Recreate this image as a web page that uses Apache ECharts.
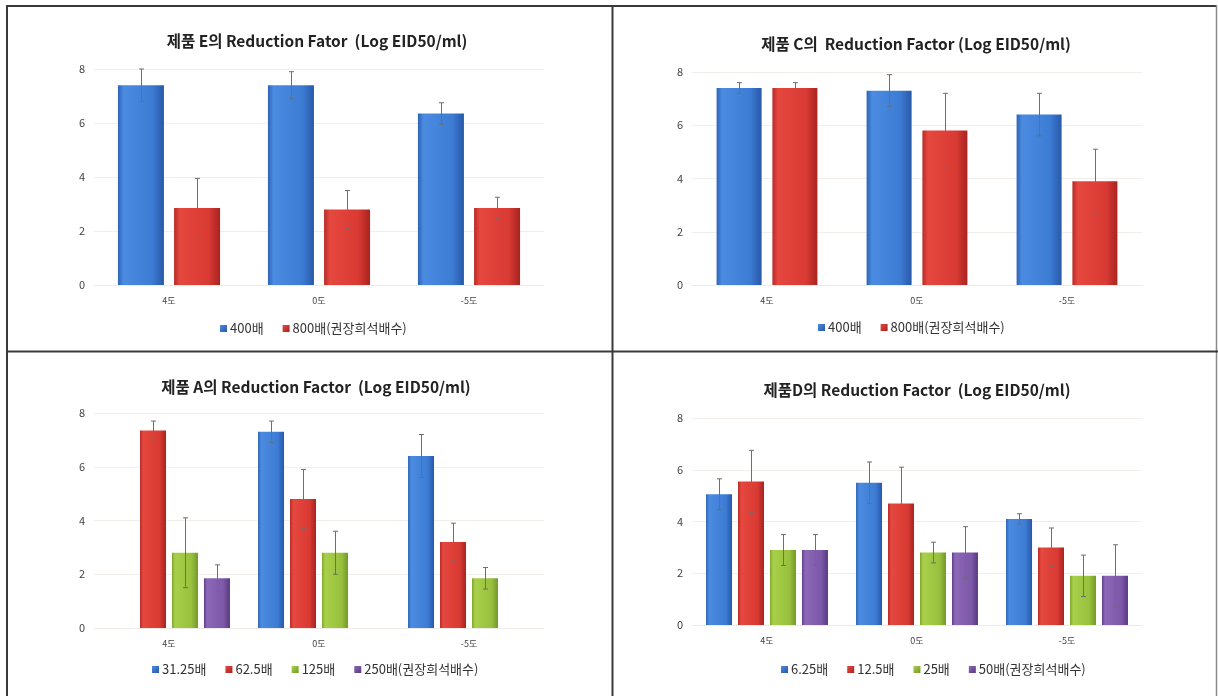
<!DOCTYPE html>
<html>
<head>
<meta charset="utf-8">
<script src="https://cdn.jsdelivr.net/npm/echarts@6/dist/echarts.min.js"></script>
<style>
  html, body { margin: 0; padding: 0; background: #fff; }
  #chart { width: 1218px; height: 696px; }
</style>
</head>
<body>
<div id="chart"></div>
<script>
// Shared category axis (test temperatures)
const categories = ['4도', '0도', '-5도'];

// 제품 E
const eTitle = '제품 E의 Reduction Fator  (Log EID50/ml)';
const eNames = ['400배', '800배(권장희석배수)'];
const e400 = [7.4, 7.4, 6.35];
const e400Err = [0.6, 0.5, 0.4];
const e800 = [2.85, 2.8, 2.85];
const e800Err = [1.1, 0.7, 0.4];

// 제품 C
const cTitle = '제품 C의  Reduction Factor (Log EID50/ml)';
const cNames = ['400배', '800배(권장희석배수)'];
const c400 = [7.4, 7.3, 6.4];
const c400Err = [0.2, 0.6, 0.8];
const c800 = [7.4, 5.8, 3.9];
const c800Err = [0.2, 1.4, 1.2];

// 제품 A
const aTitle = '제품 A의 Reduction Factor  (Log EID50/ml)';
const aNames = ['31.25배', '62.5배', '125배', '250배(권장희석배수)'];
const a3125 = [null, 7.3, 6.4];
const a3125Err = [null, 0.4, 0.8];
const a625 = [7.35, 4.8, 3.2];
const a625Err = [0.35, 1.1, 0.7];
const a125 = [2.8, 2.8, 1.85];
const a125Err = [1.3, 0.8, 0.4];
const a250 = [1.85, null, null];
const a250Err = [0.5, null, null];

// 제품 D
const dTitle = '제품D의 Reduction Factor  (Log EID50/ml)';
const dNames = ['6.25배', '12.5배', '25배', '50배(권장희석배수)'];
const d625 = [5.05, 5.5, 4.1];
const d625Err = [0.6, 0.8, 0.2];
const d125 = [5.55, 4.7, 3.0];
const d125Err = [1.2, 1.4, 0.75];
const d25 = [2.9, 2.8, 1.9];
const d25Err = [0.6, 0.4, 0.8];
const d50 = [2.9, 2.8, 1.9];
const d50Err = [0.6, 1.0, 1.2];

// y axis range
const yMin = 0, yMax = 8, yStep = 2;

// ---- styling ----
const FONT = '"Noto Sans CJK KR", "Noto Sans", sans-serif';
const palette = {
  blue:   ['#2c63b8', '#4b8be0', '#3d7cd4', '#2858a8'],
  red:    ['#b82a26', '#e5483f', '#d93a33', '#a82420'],
  green:  ['#7fa62c', '#a8d04a', '#98c03d', '#74992a'],
  purple: ['#5e3f88', '#8d67b8', '#7c58a8', '#573a80']
};
function barFill(c) {
  return new echarts.graphic.LinearGradient(0, 0, 1, 0, [
    { offset: 0, color: c[0] },
    { offset: 0.12, color: c[1] },
    { offset: 0.75, color: c[2] },
    { offset: 1, color: c[3] }
  ]);
}
function iconFill(c) {
  return new echarts.graphic.LinearGradient(0, 0, 1, 1, [
    { offset: 0, color: c[1] },
    { offset: 1, color: c[3] }
  ]);
}

// panel layout: grid box in px, title position, legend position, bar sizing
const panels = [
  { title: eTitle, names: eNames, vals: [e400, e800], errs: [e400Err, e800Err],
    colors: [palette.blue, palette.red],
    grid: { left: 94, top: 69, width: 450, height: 216 },
    titleX: 312, titleY: 28, legendY: 317, legendX: 215, barWidth: 46, barGap: 0.22 },
  { title: cTitle, names: cNames, vals: [c400, c800], errs: [c400Err, c800Err],
    colors: [palette.blue, palette.red],
    grid: { left: 692, top: 72, width: 450, height: 213 },
    titleX: 911, titleY: 31, legendY: 316, legendX: 813, barWidth: 45, barGap: 0.24 },
  { title: aTitle, names: aNames, vals: [a3125, a625, a125, a250], errs: [a3125Err, a625Err, a125Err, a250Err],
    colors: [palette.blue, palette.red, palette.green, palette.purple],
    grid: { left: 94, top: 413, width: 450, height: 215 },
    titleX: 311, titleY: 374, legendY: 658, legendX: 147, barWidth: 26, barGap: 0.23 },
  { title: dTitle, names: dNames, vals: [d625, d125, d25, d50], errs: [d625Err, d125Err, d25Err, d50Err],
    colors: [palette.blue, palette.red, palette.green, palette.purple],
    grid: { left: 692, top: 418, width: 450, height: 207 },
    titleX: 912, titleY: 377, legendY: 658, legendX: 776, barWidth: 26, barGap: 0.23 }
];

const option = {
  backgroundColor: '#ffffff',
  animation: false,
  title: [], legend: [], grid: [], xAxis: [], yAxis: [], series: [],
  graphic: [
    // panel frame
    { type: 'line', shape: { x1: 7, y1: 6, x2: 1217, y2: 6 }, style: { stroke: '#3a3a3a', lineWidth: 2 } },
    { type: 'line', shape: { x1: 7, y1: 5, x2: 7, y2: 700 }, style: { stroke: '#3a3a3a', lineWidth: 2 } },
    { type: 'line', shape: { x1: 1216.5, y1: 5, x2: 1216.5, y2: 700 }, style: { stroke: '#8a8a8a', lineWidth: 1.5 } },
    { type: 'line', shape: { x1: 612.5, y1: 5, x2: 612.5, y2: 700 }, style: { stroke: '#3a3a3a', lineWidth: 2 } },
    { type: 'line', shape: { x1: 6, y1: 351.5, x2: 1218, y2: 351.5 }, style: { stroke: '#3a3a3a', lineWidth: 2 } }
  ]
};

panels.forEach((p, pi) => {
  option.title.push({
    text: p.title, left: p.titleX, top: p.titleY, textAlign: 'center',
    textStyle: { fontFamily: FONT, fontSize: 15.5, fontWeight: 'bold', color: '#222' }
  });
  option.legend.push({
    data: p.names.map((n, i) => ({ name: n, itemStyle: { color: iconFill(p.colors[i]) } })),
    left: p.legendX, top: p.legendY,
    orient: 'horizontal', itemWidth: 7, itemHeight: 7, itemGap: 19, icon: 'rect',
    textStyle: { fontFamily: FONT, fontSize: 13, color: '#333', padding: [0, 0, 0, -2] },
    selectedMode: false
  });
  option.grid.push(Object.assign({ containLabel: false }, p.grid));
  option.xAxis.push({
    type: 'category', gridIndex: pi, data: categories,
    axisLine: { show: true, lineStyle: { color: '#f0ebe6' } },
    axisTick: { show: false },
    axisLabel: { fontFamily: FONT, fontSize: 9, color: '#444', margin: 11 }
  });
  option.yAxis.push({
    type: 'value', gridIndex: pi, min: yMin, max: yMax, interval: yStep,
    axisLine: { show: false }, axisTick: { show: false },
    splitLine: { lineStyle: { color: '#f3eee9', width: 1 } },
    axisLabel: { fontFamily: FONT, fontSize: 11, color: '#444', margin: 9 }
  });
  const n = p.names.length;
  p.names.forEach((name, si) => {
    option.series.push({
      type: 'bar', name, xAxisIndex: pi, yAxisIndex: pi,
      data: p.vals[si],
      barWidth: p.barWidth, barGap: Math.round(p.barGap * 100) + '%',
      itemStyle: { color: barFill(p.colors[si]) },
      z: 2
    });
  });
  // error bars, one custom series per bar series
  p.names.forEach((name, si) => {
    const step = p.barWidth * (1 + p.barGap);
    const shift = (si - (n - 1) / 2) * step;
    option.series.push({
      type: 'custom', xAxisIndex: pi, yAxisIndex: pi, z: 5, silent: true,
      data: categories.map((c, ci) => [ci, p.vals[si][ci], p.errs[si][ci]]),
      encode: { x: 0, y: 1 },
      renderItem: function (params, api) {
        const v = api.value(1), e = api.value(2);
        if (v == null || isNaN(v) || isNaN(e)) return null;
        const ci = api.value(0);
        const hi = api.coord([ci, v + e]);
        const lo = api.coord([ci, v - e]);
        const x = Math.round(hi[0] + shift) + 0.5;
        const cap = 2.5;
        const st = { stroke: '#6e6e6e', lineWidth: 1 };
        return {
          type: 'group',
          children: [
            { type: 'line', shape: { x1: x, y1: hi[1], x2: x, y2: lo[1] }, style: st },
            { type: 'line', shape: { x1: x - cap, y1: hi[1], x2: x + cap, y2: hi[1] }, style: st },
            { type: 'line', shape: { x1: x - cap, y1: lo[1], x2: x + cap, y2: lo[1] }, style: st }
          ]
        };
      }
    });
  });
});

const chart = echarts.init(document.getElementById('chart'), null, { renderer: 'canvas' });
chart.setOption(option);
</script>
</body>
</html>
